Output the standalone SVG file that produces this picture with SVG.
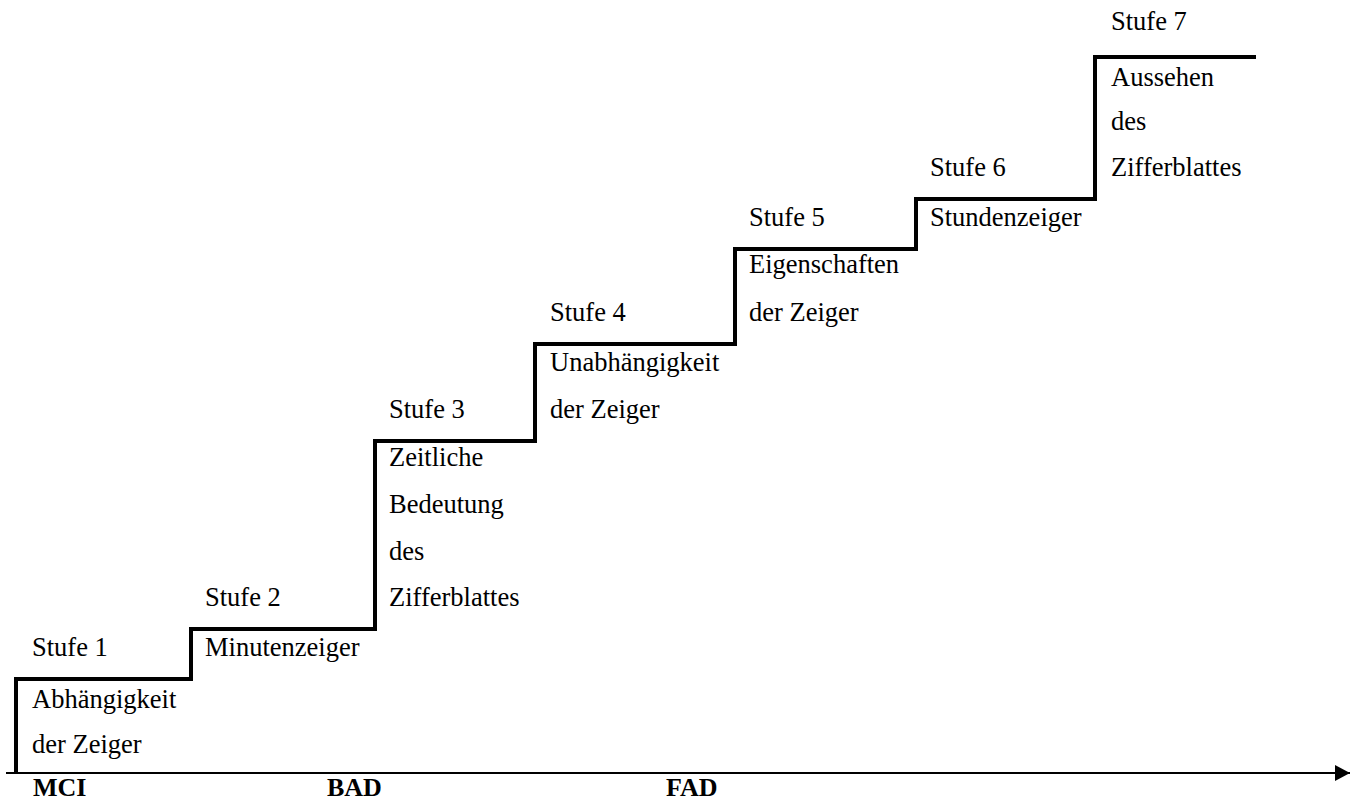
<svg xmlns="http://www.w3.org/2000/svg" width="1359" height="801" viewBox="0 0 1359 801">
  <style>
    .lbl { font-family: "Liberation Serif", "Times New Roman", serif; font-size: 26.5px; fill: #000; }
    .axis-lbl { font-family: "Liberation Serif", "Times New Roman", serif; font-size: 26px; font-weight: bold; fill: #000; }
    .stairs { fill: none; stroke: #000; stroke-width: 4; stroke-linejoin: miter; }
    .axis { fill: none; stroke: #000; stroke-width: 2; }
  </style>
  <defs>
    <marker id="arrowhead" markerWidth="16" markerHeight="16" refX="15" refY="8" orient="auto" markerUnits="userSpaceOnUse">
      <path d="M0,0 L15,8 L0,16 Z" fill="#000"/>
    </marker>
  </defs>
  <rect width="1359" height="801" fill="#fff"/>

  <!-- time axis and the staircase of stages -->
  <g id="connectors">
    <line class="axis" x1="6" y1="773" x2="1350" y2="773" marker-end="url(#arrowhead)"/>
    <path id="staircase" class="stairs" d="M16,773 V679 H191 V629 H375 V441 H535 V344 H735 V249 H916 V199 H1095 V57 H1256"/>
  </g>

  <g id="stufe1">
    <text class="lbl" x="32" y="656">Stufe 1</text>
    <text class="lbl" x="32" y="708">Abhängigkeit</text>
    <text class="lbl" x="32" y="753">der Zeiger</text>
  </g>
  <g id="stufe2">
    <text class="lbl" x="205" y="606">Stufe 2</text>
    <text class="lbl" x="205" y="656">Minutenzeiger</text>
  </g>
  <g id="stufe3">
    <text class="lbl" x="389" y="418">Stufe 3</text>
    <text class="lbl" x="389" y="466">Zeitliche</text>
    <text class="lbl" x="389" y="513">Bedeutung</text>
    <text class="lbl" x="389" y="560">des</text>
    <text class="lbl" x="389" y="606">Zifferblattes</text>
  </g>
  <g id="stufe4">
    <text class="lbl" x="550" y="321">Stufe 4</text>
    <text class="lbl" x="550" y="371">Unabhängigkeit</text>
    <text class="lbl" x="550" y="418">der Zeiger</text>
  </g>
  <g id="stufe5">
    <text class="lbl" x="749" y="226">Stufe 5</text>
    <text class="lbl" x="749" y="273">Eigenschaften</text>
    <text class="lbl" x="749" y="321">der Zeiger</text>
  </g>
  <g id="stufe6">
    <text class="lbl" x="930" y="176">Stufe 6</text>
    <text class="lbl" x="930" y="226">Stundenzeiger</text>
  </g>
  <g id="stufe7">
    <text class="lbl" x="1111" y="30">Stufe 7</text>
    <text class="lbl" x="1111" y="86">Aussehen</text>
    <text class="lbl" x="1111" y="130">des</text>
    <text class="lbl" x="1111" y="176">Zifferblattes</text>
  </g>

  <g id="axis-labels">
    <text class="axis-lbl" x="33" y="796">MCI</text>
    <text class="axis-lbl" x="327" y="796">BAD</text>
    <text class="axis-lbl" x="666" y="796">FAD</text>
  </g>
</svg>
